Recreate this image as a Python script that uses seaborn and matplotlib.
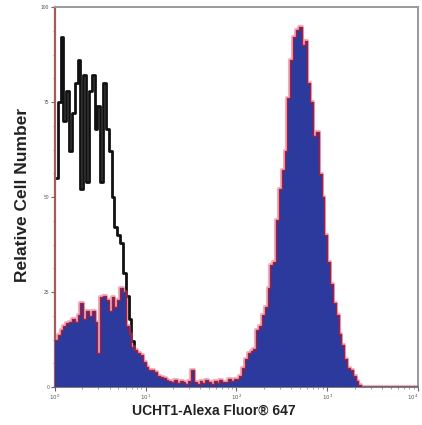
import numpy as np
import pandas as pd
import matplotlib
matplotlib.use('Agg')
import matplotlib.pyplot as plt
from matplotlib.ticker import MultipleLocator, FixedLocator
import seaborn as sns

# Histogram channels: 128 bins over four decades (log10 units 0..4)
n_bins = 128
decades = [0, 1, 2, 3, 4]
decade_labels = ['$10^0$', '$10^1$', '$10^2$', '$10^3$', '$10^4$']
y_ticks = [0, 25, 50, 75, 100]

# Isotype control (black line), first channels only
isotype = [55, 75, 92, 70, 78, 62, 72, 80, 86, 52,
           82, 54, 78, 82, 68, 74, 54, 80, 68, 62,
           50, 42, 40, 38, 30, 24, 18, 12, 8, 5,
           3, 2, 1]

# UCHT1-Alexa Fluor 647 stained sample (blue fill, red edge)
stained = [12.4, 13.7, 15, 16, 16.8, 17, 18, 17, 19, 22,
           18, 20, 18.7, 20, 17, 9, 23.7, 24, 23, 20,
           23.7, 21, 23, 26, 25, 16, 14, 10.5, 9.7, 9,
           8.4, 6.6, 5.3, 4.5, 4.5, 4, 2.9, 2.6, 2.4, 1.8,
           1.5, 1.2, 1.8, 1.0, 1.5, 1.2, 0.8, 1.5, 4.5, 1.2,
           0.8, 1.5, 1.0, 1.8, 1.2, 0.8, 1.5, 1.0, 1.8, 1.3,
           1.2, 2.0, 1.5, 2.2, 2.0, 3.0, 5.0, 7.5, 9, 9.5,
           10, 15, 16, 19, 21, 26, 32, 33, 44, 52,
           57, 62, 76, 86, 92, 94, 94.7, 90, 91, 80,
           75, 66, 67, 56, 50, 40, 33, 27, 22, 19,
           14, 11, 7.5, 5, 4.5, 3, 1.5, 0.5]
stained = stained + [0] * (n_bins - len(stained))

width = 4 / n_bins
iso_df = pd.DataFrame({'x': (np.arange(len(isotype)) + 0.5) * width, 'w': isotype})
st_df = pd.DataFrame({'x': (np.arange(n_bins) + 0.5) * width, 'w': stained})
iso_range = (0, len(isotype) * width)

sns.set_style('white')
plt.rcParams['font.family'] = ['Liberation Sans', 'DejaVu Sans']

fig = plt.figure(figsize=(4.22, 4.25), dpi=100)
ax = fig.add_axes([0.130, 0.0894, 0.8605, 0.8941])

# black isotype line under the stained fill
sns.histplot(data=iso_df, x='x', weights='w', bins=len(isotype), binrange=iso_range,
             element='step', fill=False, color='#111111', linewidth=2.0, ax=ax, zorder=1)
# red halo + edge, then blue fill
sns.histplot(data=st_df, x='x', weights='w', bins=n_bins, binrange=(0, 4),
             element='step', fill=False, color='#d85070', linewidth=3.0, alpha=0.45,
             ax=ax, zorder=2)
sns.histplot(data=st_df, x='x', weights='w', bins=n_bins, binrange=(0, 4),
             element='step', fill=True, color='#2b3a9c', alpha=1.0, linewidth=0,
             ax=ax, zorder=3)
sns.histplot(data=st_df, x='x', weights='w', bins=n_bins, binrange=(0, 4),
             element='step', fill=False, color='#a81c3c', linewidth=1.0, ax=ax, zorder=4)

ax.set_xlim(0, 4)
ax.set_ylim(0, 100)
ax.set_xticks(decades)
ax.set_xticklabels(decade_labels, fontsize=4, color='#555555')
ax.get_xticklabels()[-1].set_horizontalalignment('right')
minor_x = [d + np.log10(k) for d in decades[:-1] for k in range(2, 10)]
ax.xaxis.set_minor_locator(FixedLocator(minor_x))
ax.set_yticks(y_ticks)
ax.set_yticklabels([str(v) for v in y_ticks], fontsize=3.5, color='#555555')
ax.yaxis.set_minor_locator(MultipleLocator(6.25))
ax.tick_params(axis='both', which='major', direction='out', length=3, width=0.8,
               color='#666666', pad=1, bottom=True, left=True)
ax.tick_params(axis='both', which='minor', direction='out', length=1.5, width=0.6,
               color='#888888', bottom=True, left=True)

for side in ['top', 'right']:
    ax.spines[side].set_color('#9a9a9a')
    ax.spines[side].set_linewidth(1.4)
ax.spines['bottom'].set_color('#666666')
ax.spines['bottom'].set_linewidth(1.2)
ax.spines['left'].set_color('#a85a5a')
ax.spines['left'].set_linewidth(1.6)

ax.set_xlabel('UCHT1-Alexa Fluor® 647', fontsize=10, fontweight='bold',
              color='#222222')
ax.xaxis.set_label_coords(0.438, -0.043, transform=ax.transAxes)
ax.xaxis.label.set_verticalalignment('top')
ax.set_ylabel('Relative Cell Number', fontsize=12.5, fontweight='bold',
              color='#222222')
ax.yaxis.set_label_coords(-0.068, 0.505, transform=ax.transAxes)

fig.savefig('out.png', dpi=100, facecolor='white')
